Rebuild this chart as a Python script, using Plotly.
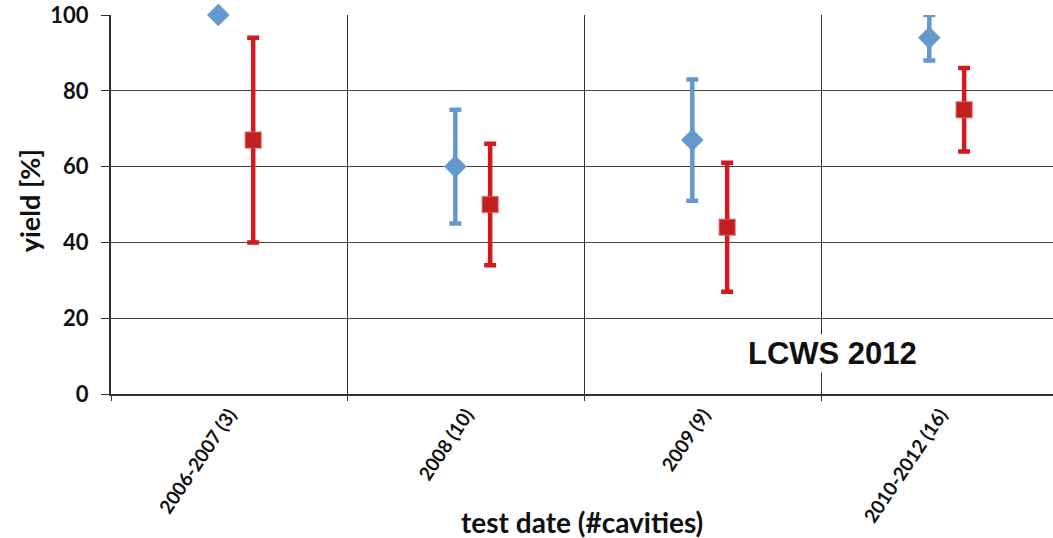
import plotly.graph_objects as go

categories = ["2006-2007 (3)", "2008 (10)", "2009 (9)", "2010-2012 (16)"]
blue_val = [100, 60, 67, 94]
blue_hi = [100, 75, 83, 100]
blue_lo = [100, 45, 51, 88]
red_val = [67, 50, 44, 75]
red_hi = [94, 66, 61, 86]
red_lo = [40, 34, 27, 64]
y_ticks = [0, 20, 40, 60, 80, 100]

BLUE = "#6399cd"
RED = "#d2191e"

xpos = list(range(len(categories)))
bx = [x - 0.047 for x in xpos]
rx = [x + 0.10 for x in xpos]

fig = go.Figure()
fig.add_trace(go.Scatter(
    x=bx, y=blue_val, mode="markers",
    marker=dict(symbol="diamond", size=17, color=BLUE,
                line=dict(color="rgba(99,153,205,0.5)", width=1)),
    error_y=dict(type="data", symmetric=False,
                 array=[h - v for h, v in zip(blue_hi, blue_val)],
                 arrayminus=[v - l for v, l in zip(blue_val, blue_lo)],
                 color=BLUE, thickness=4.5, width=6),
    cliponaxis=False, showlegend=False))
fig.add_trace(go.Scatter(
    x=rx, y=red_val, mode="markers",
    marker=dict(symbol="square", size=16, color="#c0201f",
                line=dict(color="rgba(220,90,90,0.6)", width=1.5)),
    error_y=dict(type="data", symmetric=False,
                 array=[h - v for h, v in zip(red_hi, red_val)],
                 arrayminus=[v - l for v, l in zip(red_val, red_lo)],
                 color=RED, thickness=4.5, width=6),
    cliponaxis=False, showlegend=False))

fig.add_annotation(x=2.546, y=10.7, xref="x", yref="y", text="<b>LCWS 2012</b>",
                   showarrow=False, bgcolor="white",
                   font=dict(family="Liberation Sans, Arial", size=31, color="#111"))
fig.add_annotation(x=0.5, y=-0.338, xref="paper", yref="paper",
                   text="<b>test date (#cavities)</b>", showarrow=False,
                   xanchor="center", yanchor="middle",
                   font=dict(family="Lato", size=28, color="#111"))
fig.add_annotation(x=-0.0865, y=0.51, xref="paper", yref="paper",
                   text="<b>yield [%]</b>", showarrow=False, textangle=-90,
                   xanchor="center", yanchor="middle",
                   font=dict(family="Lato", size=27, color="#111"))

fig.update_layout(
    width=1053, height=538,
    margin=dict(l=111, r=0, t=15, b=144),
    paper_bgcolor="white", plot_bgcolor="white",
    xaxis=dict(range=[-0.5, 3.475], tickvals=xpos, ticktext=categories,
               tickangle=-56, showgrid=False, ticks="", automargin=False,
               tickfont=dict(family="Lato", size=19, color="#111", weight="bold"),
               showline=True, linecolor="#333", linewidth=2,
               minor=dict(tickvals=[-0.5, 0.5, 1.5, 2.5, 3.5], showgrid=True,
                          gridcolor="#333", gridwidth=1, ticks="outside",
                          ticklen=5, tickcolor="#333"),
               zeroline=False),
    yaxis=dict(range=[0, 100], tickvals=y_ticks, showgrid=True, gridcolor="#444",
               gridwidth=1, ticks="outside", ticklen=8, tickcolor="#333",
               automargin=False, ticklabelstandoff=8,
               tickfont=dict(family="Lato", size=22, color="#111", weight="bold"),
               showline=True, linecolor="#333", linewidth=2, zeroline=False),
)

fig.write_html("out.html")
